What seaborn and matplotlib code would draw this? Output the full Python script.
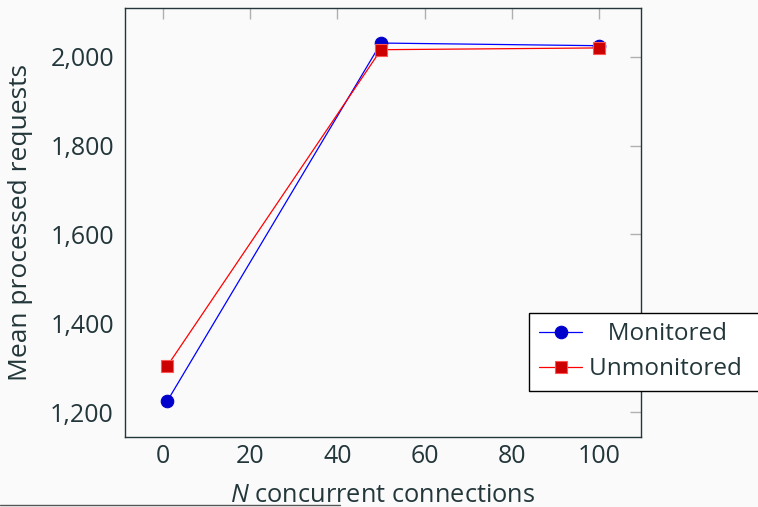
import pandas as pd
import matplotlib.pyplot as plt
import matplotlib.ticker as mticker
from matplotlib.lines import Line2D
import seaborn as sns

# data
connections = [1, 50, 100]
monitored = [1225, 2031, 2025]
unmonitored = [1304, 2016, 2020]

df = pd.DataFrame({
    'N': connections * 2,
    'requests': monitored + unmonitored,
    'series': ['Monitored'] * 3 + ['Unmonitored'] * 3,
})

sns.set_style('white')
plt.rcParams['font.family'] = ['Open Sans', 'DejaVu Sans']
plt.rcParams['mathtext.fontset'] = 'custom'
plt.rcParams['mathtext.it'] = 'Open Sans:italic'
plt.rcParams['mathtext.rm'] = 'Open Sans'

txt = '#23373b'
bg = '#fafafa'

fig = plt.figure(figsize=(7.58, 5.07), dpi=100, facecolor=bg)
ax = fig.add_axes([0.1649, 0.1381, 0.6807, 0.8462], facecolor=bg)

styles = {
    'Monitored': dict(color='#0000ff', marker='o', mfc='#0000cc', mec='#0000cc', ms=9),
    'Unmonitored': dict(color='#ff0000', marker='s', mfc='#cc0000', mec='#ff5555', ms=8.5),
}
for name, st in styles.items():
    sub = df[df['series'] == name]
    sns.lineplot(data=sub, x='N', y='requests', ax=ax, color=st['color'],
                 marker=st['marker'], markerfacecolor=st['mfc'],
                 markeredgecolor=st['mec'], markersize=st['ms'],
                 markeredgewidth=0.8, linewidth=0.9, label=name)

ax.set_xlim(-8.7, 109.6)
ax.set_ylim(1144, 2110)
ax.set_xticks([0, 20, 40, 60, 80, 100])
ax.set_yticks([1200, 1400, 1600, 1800, 2000])
ax.yaxis.set_major_formatter(mticker.FuncFormatter(lambda v, p: f'{int(v):,}'))

ax.tick_params(direction='in', length=8, width=1, color='#b0b0b0',
               labelsize=18, labelcolor=txt, top=True, right=True)
ax.tick_params(axis='y', pad=8)
ax.tick_params(axis='x', pad=5)
for s in ax.spines.values():
    s.set_color(txt)
    s.set_linewidth(1.0)

ax.set_xlabel('$N$ concurrent connections', fontsize=18.3, color=txt, labelpad=10)
ax.set_ylabel('Mean processed requests', fontsize=19, color=txt, labelpad=12)

handles, labels = ax.get_legend_handles_labels()
leg = ax.legend(handles, ['   Monitored', 'Unmonitored   '], loc='lower left',
                bbox_to_anchor=(0.783, 0.107), fontsize=17.5, frameon=True,
                fancybox=False, edgecolor='black', facecolor='white',
                framealpha=1, handlelength=1.8, handletextpad=0.25,
                borderpad=0.4, labelspacing=0.45, borderaxespad=0)
leg.get_frame().set_linewidth(1.0)
for t in leg.get_texts():
    t.set_color(txt)

fig.add_artist(Line2D([0, 340 / 758], [2 / 507, 2 / 507], color='#555555',
                      linewidth=1, transform=fig.transFigure))

fig.savefig('out.png', dpi=100, facecolor=bg)
